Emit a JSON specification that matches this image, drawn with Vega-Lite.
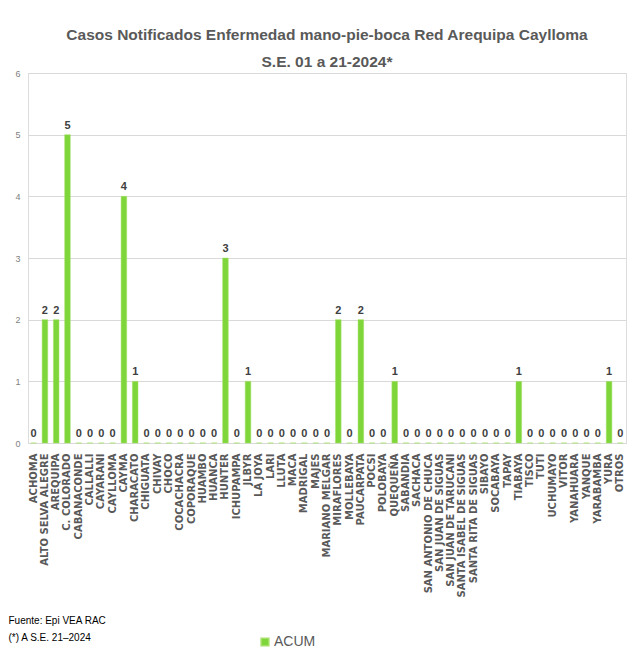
{
  "$schema": "https://vega.github.io/schema/vega-lite/v6.json",
  "autosize": "none",
  "width": 598,
  "height": 370,
  "padding": {"left": 28, "top": 73, "right": 6, "bottom": 212},
  "background": "white",
  "title": {
    "text": ["Casos  Notificados Enfermedad mano-pie-boca Red Arequipa Caylloma", "S.E. 01 a 21-2024*"],
    "font": "Liberation Sans",
    "fontSize": 15.5,
    "fontWeight": "bold",
    "color": "#595959",
    "lineHeight": 27,
    "anchor": "middle",
    "offset": -1
  },
  "data": {
    "values": [
      {"distrito": "ACHOMA", "casos": 0},
      {"distrito": "ALTO SELVA ALEGRE", "casos": 2},
      {"distrito": "AREQUIPA", "casos": 2},
      {"distrito": "C. COLORADO", "casos": 5},
      {"distrito": "CABANACONDE", "casos": 0},
      {"distrito": "CALLALLI", "casos": 0},
      {"distrito": "CAYARANI", "casos": 0},
      {"distrito": "CAYLLOMA", "casos": 0},
      {"distrito": "CAYMA", "casos": 4},
      {"distrito": "CHARACATO", "casos": 1},
      {"distrito": "CHIGUATA", "casos": 0},
      {"distrito": "CHIVAY", "casos": 0},
      {"distrito": "CHOCO", "casos": 0},
      {"distrito": "COCACHACRA", "casos": 0},
      {"distrito": "COPORAQUE", "casos": 0},
      {"distrito": "HUAMBO", "casos": 0},
      {"distrito": "HUANCA", "casos": 0},
      {"distrito": "HUNTER", "casos": 3},
      {"distrito": "ICHUPAMPA", "casos": 0},
      {"distrito": "JLBYR", "casos": 1},
      {"distrito": "LA JOYA", "casos": 0},
      {"distrito": "LARI", "casos": 0},
      {"distrito": "LLUTA", "casos": 0},
      {"distrito": "MACA", "casos": 0},
      {"distrito": "MADRIGAL", "casos": 0},
      {"distrito": "MAJES", "casos": 0},
      {"distrito": "MARIANO MELGAR", "casos": 0},
      {"distrito": "MIRAFLORES", "casos": 2},
      {"distrito": "MOLLEBAYA", "casos": 0},
      {"distrito": "PAUCARPATA", "casos": 2},
      {"distrito": "POCSI", "casos": 0},
      {"distrito": "POLOBAYA", "casos": 0},
      {"distrito": "QUEQUEÑA", "casos": 1},
      {"distrito": "SABANDIA", "casos": 0},
      {"distrito": "SACHACA", "casos": 0},
      {"distrito": "SAN ANTONIO DE CHUCA", "casos": 0},
      {"distrito": "SAN JUAN DE SIGUAS", "casos": 0},
      {"distrito": "SAN JUAN DE TARUCANI", "casos": 0},
      {"distrito": "SANTA ISABEL DE SIGUAS", "casos": 0},
      {"distrito": "SANTA RITA DE SIGUAS", "casos": 0},
      {"distrito": "SIBAYO", "casos": 0},
      {"distrito": "SOCABAYA", "casos": 0},
      {"distrito": "TAPAY", "casos": 0},
      {"distrito": "TIABAYA", "casos": 1},
      {"distrito": "TISCO", "casos": 0},
      {"distrito": "TUTI", "casos": 0},
      {"distrito": "UCHUMAYO", "casos": 0},
      {"distrito": "VITOR", "casos": 0},
      {"distrito": "YANAHUARA", "casos": 0},
      {"distrito": "YANQUE", "casos": 0},
      {"distrito": "YARABAMBA", "casos": 0},
      {"distrito": "YURA", "casos": 1},
      {"distrito": "OTROS", "casos": 0}
    ]
  },
  "encoding": {
    "x": {
      "field": "distrito",
      "type": "nominal",
      "sort": null,
      "scale": {"paddingInner": 0.5, "paddingOuter": 0.25},
      "axis": {
        "labelAngle": -90,
        "labelFont": "DejaVu Sans",
        "labelFontSize": 10,
        "labelFontWeight": "bold",
        "labelColor": "#595959",
        "labelPadding": 10,
        "labelLimit": 300,
        "labelOverlap": false,
        "ticks": false,
        "domain": true,
        "domainColor": "#d9d9d9",
        "title": ["Fuente: Epi VEA RAC", "(*) A S.E. 21–2024"],
        "titleFont": "Liberation Sans",
        "titleFontSize": 10,
        "titleFontWeight": "normal",
        "titleColor": "#000000",
        "titleAnchor": "start",
        "titleAlign": "left",
        "titleBaseline": "middle",
        "titleLineHeight": 17,
        "titleX": -20,
        "titleY": 177
      }
    },
    "y": {
      "field": "casos",
      "type": "quantitative",
      "scale": {"domain": [0, 6]},
      "axis": {
        "values": [0, 1, 2, 3, 4, 5, 6],
        "title": null,
        "domain": false,
        "ticks": false,
        "grid": true,
        "gridColor": "#d9d9d9",
        "labelFont": "Liberation Sans",
        "labelFontSize": 9,
        "labelColor": "#7f7f7f",
        "labelPadding": 8
      }
    }
  },
  "layer": [
    {
      "mark": {"type": "bar", "stroke": "#a6e06a", "strokeWidth": 0.5},
      "encoding": {
        "color": {
          "datum": "ACUM",
          "scale": {"range": ["#7fd63a"]},
          "legend": {
            "title": null,
            "orient": "none",
            "legendX": 230,
            "legendY": 562,
            "symbolType": "square",
            "symbolSize": 60,
            "labelFont": "Liberation Sans",
            "labelFontSize": 14,
            "labelColor": "#595959",
            "labelOffset": 2
          }
        }
      }
    },
    {
      "mark": {"type": "text", "dy": -9, "font": "Liberation Sans", "fontSize": 11, "fontWeight": "bold", "color": "#404040"},
      "encoding": {"text": {"field": "casos", "type": "quantitative"}}
    }
  ]
}
